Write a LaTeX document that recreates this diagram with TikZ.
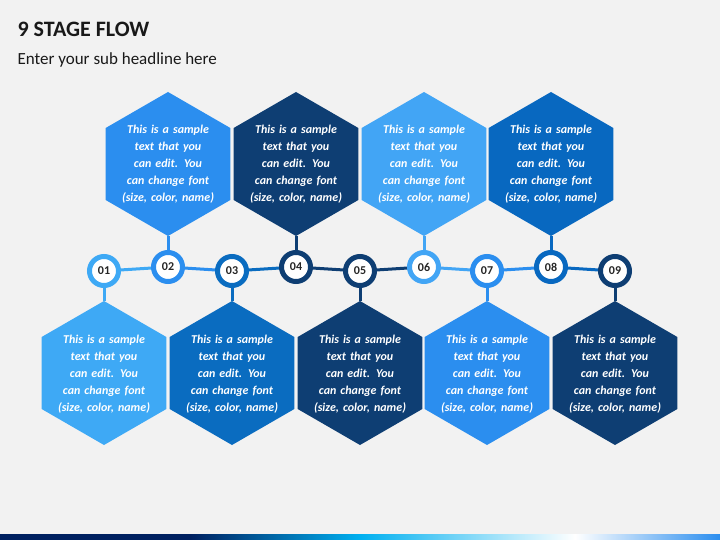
\documentclass[tikz,border=0pt]{standalone}
\usepackage{fontspec}
\setmainfont{Carlito}
\usetikzlibrary{shapes.geometric}
\definecolor{bgc}{HTML}{F2F2F2}
\definecolor{cA}{HTML}{3EA9F5}
\definecolor{cB}{HTML}{2B8EEF}
\definecolor{cC}{HTML}{0A6CC0}
\definecolor{cD}{HTML}{0E3E73}
\definecolor{cE}{HTML}{42A5F5}
\definecolor{cF}{HTML}{0868C0}
\definecolor{barA}{HTML}{002060}
\definecolor{barB}{HTML}{00B0F0}
\tikzset{
  hexa/.style={regular polygon, regular polygon sides=6, shape border rotate=30, minimum size=144pt, inner sep=0pt, fill=#1, draw=none},
  htext/.style={text=white, font=\fontsize{12}{17}\selectfont\bfseries\itshape, align=center, text width=100pt},
  num/.style={circle, draw=#1, line width=5pt, fill=white, minimum size=29pt, inner sep=0pt, font=\fontsize{12}{12}\selectfont\bfseries, text=black!85},
  link/.style={line width=3pt, draw=#1},
}
\begin{document}
\begin{tikzpicture}[x=1pt,y=-1pt]
\fill[bgc] (0,0) rectangle (720,540);
\useasboundingbox (0,0) rectangle (720,540);
\fill[barA] (0,534) rectangle (190,540);
\shade[left color=barA, right color=barB] (190,534) rectangle (360,540);
\shade[left color=barB, right color=white] (360,534) rectangle (575,540);
\shade[left color=white, right color=cB] (575,534) rectangle (720,540);
\node[anchor=west, font=\fontsize{22}{22}\selectfont\bfseries, text=black!90] (title) at (14,29) {9 STAGE FLOW};
\node[anchor=west, font=\fontsize{17}{17}\selectfont, text=black!90] (sub) at (14,60) {Enter your sub headline here};
% circles
\foreach \n/\x/\y/\c in {1/104/271/cA,2/168/267/cB,3/232/271/cC,4/296/267/cD,5/360/271/cD,6/424/267/cE,7/487/271/cB,8/551/267/cF,9/615/271/cD}{
  \coordinate (p\n) at (\x,\y);
}
\draw[link=cA] (p1) -- (p2);
\draw[link=cB] (p2) -- (p3);
\draw[link=cC] (p3) -- (p4);
\draw[link=cD] (p4) -- (p5);
\draw[link=cD] (p5) -- (p6);
\draw[link=cE] (p6) -- (p7);
\draw[link=cB] (p7) -- (p8);
\draw[link=cF] (p8) -- (p9);
% hexagons top
\foreach \n/\x/\c in {2/168/cB,4/296/cD,6/424/cE,8/551/cF}{
  \node[hexa=\c] (h\n) at (\x,164) {};
  \draw[link=\c] (h\n.south) -- (p\n);
  \node[htext] (t\n) at (\x,164) {This is a sample text that you can edit. You can change font (size, color, name)};
}
\foreach \n/\x/\c in {1/104/cA,3/232/cC,5/360/cD,7/487/cB,9/615/cD}{
  \node[hexa=\c] (h\n) at (\x,373) {};
  \draw[link=\c] (h\n.north) -- (p\n);
  \node[htext] (t\n) at (\x,374) {This is a sample text that you can edit. You can change font (size, color, name)};
}
\foreach \n/\c in {1/cA,2/cB,3/cC,4/cD,5/cD,6/cE,7/cB,8/cF,9/cD}{
  \node[num=\c] (c\n) at (p\n) {0\n};
}
\end{tikzpicture}
\end{document}
